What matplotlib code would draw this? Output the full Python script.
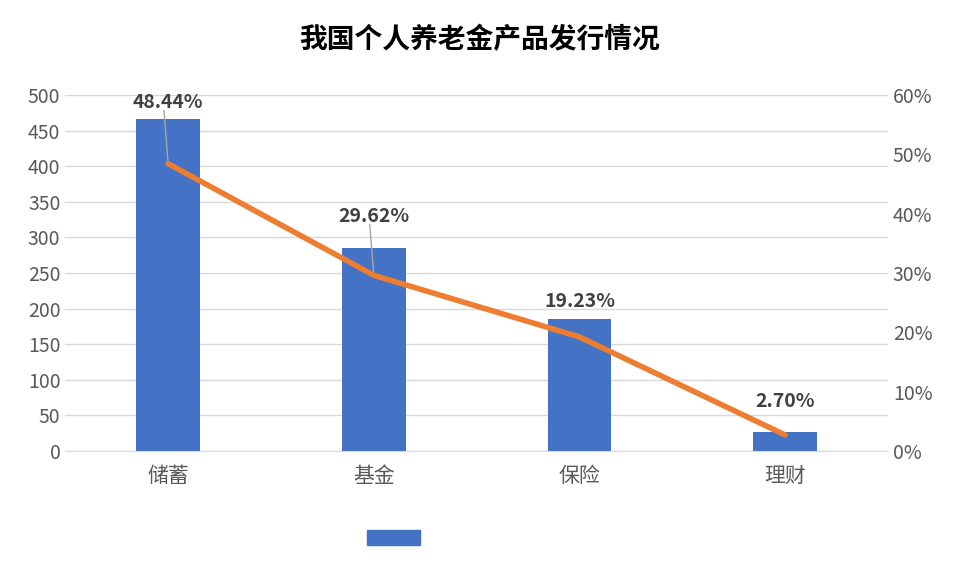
import matplotlib
matplotlib.use("Agg")
import matplotlib.pyplot as plt
from matplotlib.patches import Rectangle

plt.rcParams['font.family'] = ['Noto Sans CJK SC', 'DejaVu Sans']

categories = ['储蓄', '基金', '保险', '理财']
counts = [466, 285, 185, 26]
shares = [48.44, 29.62, 19.23, 2.70]
label_y = [490, 330, 210, 70]

fig = plt.figure(figsize=(9.6, 5.76), dpi=100)
ax = fig.add_axes([0.068, 0.217, 0.857, 0.618])
x = range(len(categories))
ax.bar(x, counts, width=0.31, color='#4472C4', zorder=2)
ax.set_ylim(0, 500)
ax.set_yticks(range(0, 501, 50))
ax.set_xlim(-0.5, 3.5)
ax.set_xticks(list(x))
ax.set_xticklabels(categories, fontsize=15, color='#595959')
ax.tick_params(axis='y', labelsize=14, colors='#595959', length=0)
ax.tick_params(axis='x', length=0, pad=10)
ax.grid(axis='y', color='#D9D9D9', lw=1, zorder=0)
for s in ['top', 'left', 'right']:
    ax.spines[s].set_visible(False)
ax.spines['bottom'].set_color('#D9D9D9')

ax2 = ax.twinx()
ax2.plot(list(x), shares, color='#ED7D31', lw=4, zorder=3, solid_capstyle='round')
ax2.set_ylim(0, 60)
ax2.set_yticks(range(0, 61, 10))
ax2.set_yticklabels([f'{v}%' for v in range(0, 61, 10)])
ax2.tick_params(axis='y', labelsize=14, colors='#595959', length=0)
for s in ['top', 'left', 'right', 'bottom']:
    ax2.spines[s].set_visible(False)

for i, (v, ly) in enumerate(zip(shares, label_y)):
    py = v / 60 * 500
    if ly - py > 60:
        ax.plot([i, i - 0.02], [py, ly - 12], color='#A6A6A6', lw=1, zorder=4)
    ax.text(i, ly, f'{v:.2f}%', ha='center', va='center', fontsize=14,
            fontweight='bold', color='#404040', zorder=5)

fig.text(0.5, 0.93, '我国个人养老金产品发行情况', ha='center', va='center',
         fontsize=20, fontweight='bold', color='#000000')
fig.patches.append(Rectangle((0.382, 0.053), 0.055, 0.026, transform=fig.transFigure,
                             color='#4472C4'))
fig.savefig('out.png', dpi=100)
